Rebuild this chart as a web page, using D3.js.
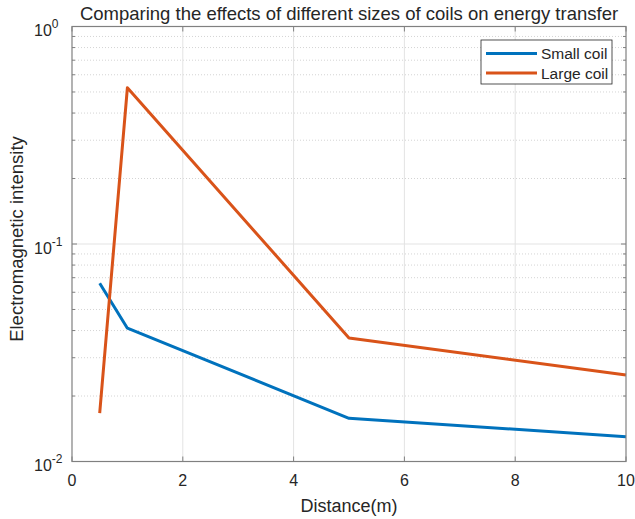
<!DOCTYPE html>
<html>
<head>
<meta charset="utf-8">
<script src="https://cdn.jsdelivr.net/npm/d3@7"></script>
<style>
  body { margin: 0; background: #fff; }
  svg text { font-family: "Liberation Sans", Arial, Helvetica, sans-serif; fill: #262626; }
</style>
</head>
<body>
<svg id="chart" width="635" height="519"></svg>
<script>
// Distances (m) and measured intensities
const distance = [0.5, 1, 5, 10];
const smallCoil = [0.066, 0.041, 0.0158, 0.013];
const largeCoil = [0.0167, 0.523, 0.037, 0.025];
const seriesNames = ["Small coil", "Large coil"];
const seriesColors = ["#0072BD", "#D95319"];
const xTicks = [0, 2, 4, 6, 8, 10];
const yDecades = [0.01, 0.1, 1];
const yExponents = ["-2", "-1", "0"];

const svg = d3.select("#chart");
const m = { left: 72, right: 626, top: 26.5, bottom: 461.5 };

const x = d3.scaleLinear().domain([0, 10]).range([m.left, m.right]);
const y = d3.scaleLog().domain([0.01, 1]).range([m.bottom, m.top]);

// minor decade values for the dotted grid
const minor = [];
for (const d of [0.01, 0.1]) for (let k = 2; k <= 9; k++) minor.push(d * k);

const grid = svg.append("g");
grid.selectAll("line.mx").data(minor).join("line")
  .attr("x1", m.left).attr("x2", m.right)
  .attr("y1", d => y(d)).attr("y2", d => y(d))
  .attr("stroke", "#d4d4d4").attr("stroke-width", 1).attr("stroke-dasharray", "1,2");
grid.selectAll("line.gx").data(xTicks.slice(1, -1)).join("line")
  .attr("x1", d => x(d)).attr("x2", d => x(d))
  .attr("y1", m.top).attr("y2", m.bottom)
  .attr("stroke", "#e3e3e3").attr("stroke-width", 1);
grid.append("line")
  .attr("x1", m.left).attr("x2", m.right)
  .attr("y1", y(0.1)).attr("y2", y(0.1))
  .attr("stroke", "#e3e3e3").attr("stroke-width", 1);

// lines
const line = d3.line().x((d, i) => x(distance[i])).y(d => y(d));
[smallCoil, largeCoil].forEach((s, i) => {
  svg.append("path").datum(s)
    .attr("d", line).attr("fill", "none")
    .attr("stroke", seriesColors[i]).attr("stroke-width", 3)
    .attr("stroke-linejoin", "round");
});

// axes box and inward ticks
const axisColor = "#808080";
svg.append("rect").attr("x", m.left).attr("y", m.top)
  .attr("width", m.right - m.left).attr("height", m.bottom - m.top)
  .attr("fill", "none").attr("stroke", axisColor).attr("stroke-width", 1.2);

const tickLen = 5;
const tk = svg.append("g").attr("stroke", axisColor).attr("stroke-width", 1);
xTicks.forEach(t => {
  tk.append("line").attr("x1", x(t)).attr("x2", x(t)).attr("y1", m.bottom).attr("y2", m.bottom - tickLen);
  tk.append("line").attr("x1", x(t)).attr("x2", x(t)).attr("y1", m.top).attr("y2", m.top + tickLen);
});
yDecades.concat(minor).forEach(t => {
  const len = yDecades.includes(t) ? tickLen : 3;
  tk.append("line").attr("x1", m.left).attr("x2", m.left + len).attr("y1", y(t)).attr("y2", y(t));
  tk.append("line").attr("x1", m.right).attr("x2", m.right - len).attr("y1", y(t)).attr("y2", y(t));
});

// x tick labels
svg.selectAll("text.xt").data(xTicks).join("text")
  .attr("x", d => x(d)).attr("y", m.bottom + 24)
  .attr("text-anchor", "middle").attr("font-size", 16)
  .text(d => d);

// y tick labels: 10 with superscript exponent
yDecades.forEach((d, i) => {
  const t = svg.append("text").attr("x", 34).attr("y", y(d) + 9.5)
    .attr("text-anchor", "start").attr("font-size", 16);
  t.append("tspan").text("10");
  t.append("tspan").attr("font-size", 12).attr("dy", -8).text(yExponents[i]);
});

// titles
svg.append("text").attr("x", (m.left + m.right) / 2).attr("y", 19.5)
  .attr("text-anchor", "middle").attr("font-size", 18.5)
  .text("Comparing the effects of different sizes of coils on energy transfer");
svg.append("text").attr("x", (m.left + m.right) / 2).attr("y", 512)
  .attr("text-anchor", "middle").attr("font-size", 18)
  .text("Distance(m)");
svg.append("text")
  .attr("transform", `translate(23,239) rotate(-90)`)
  .attr("text-anchor", "middle").attr("font-size", 18.5)
  .text("Electromagnetic intensity");

// legend
const lg = svg.append("g").attr("transform", "translate(481,40)");
lg.append("rect").attr("width", 131).attr("height", 44)
  .attr("fill", "#fff").attr("stroke", "#262626").attr("stroke-width", 0.8);
seriesNames.forEach((n, i) => {
  const yy = 13.5 + i * 19.5;
  lg.append("line").attr("x1", 5).attr("x2", 56).attr("y1", yy).attr("y2", yy)
    .attr("stroke", seriesColors[i]).attr("stroke-width", 3);
  lg.append("text").attr("x", 60).attr("y", yy + 5.5).attr("font-size", 15.5).text(n);
});
</script>
</body>
</html>
